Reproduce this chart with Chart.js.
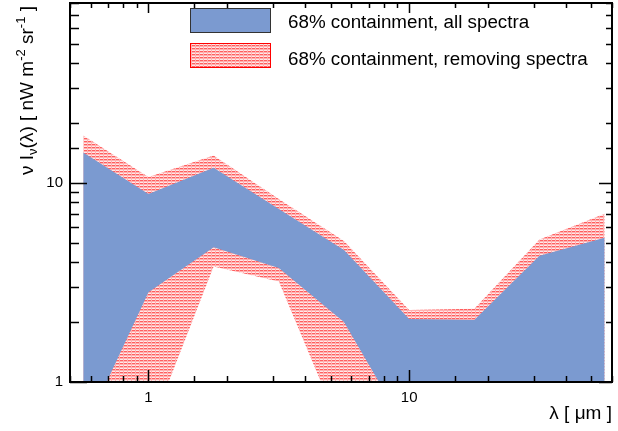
<!DOCTYPE html>
<html><head><meta charset="utf-8">
<style>html,body{margin:0;padding:0;background:#fff;overflow:hidden}#wrap{width:618px;height:431px;position:relative}</style>
<script src="https://cdn.jsdelivr.net/npm/chart.js@4.4.1/dist/chart.umd.min.js"></script>
</head><body><div id="wrap"><canvas id="c" width="618" height="431"></canvas></div>
<script>
// wavelength (um), quarter-decade grid
const lambdaUm = [0.562, 1.0, 1.778, 3.162, 5.623, 10.0, 17.78, 31.62, 56.23];
// 68% containment band, all spectra
const allUpper = [14.2, 8.8, 11.9, 7.4, 4.6, 2.07, 2.05, 4.3, 5.3];
const allLower = [0.56, 2.82, 4.75, 3.74, 2.0, 0.55, 0.5, 0.5, 0.5];
// 68% containment band, removing spectra
const remUpper = [17.3, 10.7, 13.7, 8.3, 5.1, 2.3, 2.33, 5.2, 7.0];
const remLower = [0.5, 0.55, 3.8, 3.2, 0.53, 0.5, 0.5, 0.5, 0.5];
// labelled ticks
const xTickLabels = [1, 10];
const yTickLabels = [1, 10];
const legendLabels = ['68% containment, all spectra', '68% containment, removing spectra'];

const FONT = '"Liberation Sans", Arial, Helvetica, sans-serif';
const BLUE = 'rgb(123,154,208)';

const canvas = document.getElementById('c');
const ctx0 = canvas.getContext('2d');
function makePattern() {
  const c = document.createElement('canvas');
  c.width = 4; c.height = 3;
  const g = c.getContext('2d');
  g.fillStyle = 'rgb(255,176,176)'; g.fillRect(0, 0, 4, 3);
  g.fillStyle = 'rgb(255,95,95)'; g.fillRect(0, 0, 3, 1);
  g.fillStyle = 'rgb(255,232,232)'; g.fillRect(0, 2, 3, 1);
  return ctx0.createPattern(c, 'repeat');
}
const PATTERN = makePattern();

const pts = arr => lambdaUm.map((x, i) => ({x: x, y: arr[i]}));
const isLabelled = (list, v) => list.some(t => Math.abs(t - v) < 1e-9 * Math.max(1, t));

const framePlugin = {
  id: 'framePlugin',
  afterDraw(chart) {
    const ctx = chart.ctx, a = chart.chartArea, xs = chart.scales.x, ys = chart.scales.y;
    ctx.save();
    ctx.strokeStyle = '#000';
    ctx.lineWidth = 1.5;
    const isMajor = v => Math.abs(Math.log10(v) - Math.round(Math.log10(v))) < 1e-9;
    ctx.beginPath();
    ys.ticks.forEach(t => {
      const p = Math.round(ys.getPixelForValue(t.value)) + 0.5;
      const mj = isMajor(t.value);
      ctx.moveTo(a.left, p); ctx.lineTo(a.left + (mj ? 17 : 9), p);
      ctx.moveTo(a.right, p); ctx.lineTo(a.right - (mj ? 13 : 6), p);
    });
    xs.ticks.forEach(t => {
      const p = Math.round(xs.getPixelForValue(t.value)) + 0.5;
      const mj = isMajor(t.value);
      ctx.moveTo(p, a.bottom); ctx.lineTo(p, a.bottom - (mj ? 12 : 6));
      ctx.moveTo(p, a.top); ctx.lineTo(p, a.top + (mj ? 10 : 5));
    });
    ctx.stroke();
    ctx.lineWidth = 2;
    ctx.strokeRect(a.left, a.top, a.right - a.left, a.bottom - a.top);

    // legend
    ctx.fillStyle = BLUE; ctx.fillRect(190, 8, 81, 25);
    ctx.lineWidth = 1; ctx.strokeStyle = '#333'; ctx.strokeRect(190.5, 8.5, 80, 24);
    ctx.fillStyle = PATTERN; ctx.fillRect(190, 43, 81, 25);
    ctx.strokeStyle = 'rgb(255,0,0)'; ctx.strokeRect(190.5, 43.5, 80, 24);
    ctx.fillStyle = '#000';
    ctx.font = '18.8px ' + FONT;
    ctx.textBaseline = 'alphabetic'; ctx.textAlign = 'left';
    ctx.fillText(legendLabels[0], 288, 28);
    ctx.fillText(legendLabels[1], 288, 65);

    // y title with sub/superscripts
    ctx.translate(33, 175);
    ctx.rotate(-Math.PI / 2);
    const big = '19px ' + FONT, small = '13px ' + FONT;
    const parts = [
      ['\u03bd I', big, 0], ['\u03bd', small, 4], ['(\u03bb) [ nW m', big, 0],
      ['-2', small, -8], [' sr', big, 0], ['-1', small, -8], [' ]', big, 0]
    ];
    let xx = 0;
    parts.forEach(p => { ctx.font = p[1]; ctx.fillText(p[0], xx, p[2]); xx += ctx.measureText(p[0]).width; });
    ctx.restore();
  }
};

new Chart(canvas, {
  type: 'line',
  data: {
    datasets: [
      {label: legendLabels[0], data: pts(allUpper), fill: '+1', backgroundColor: BLUE, borderColor: 'rgba(0,0,0,0)', borderWidth: 0, pointRadius: 0, tension: 0},
      {label: 'all lower', data: pts(allLower), fill: false, borderColor: 'rgba(0,0,0,0)', borderWidth: 0, pointRadius: 0, tension: 0},
      {label: legendLabels[1], data: pts(remUpper), fill: '+1', backgroundColor: PATTERN, borderColor: 'rgba(0,0,0,0)', borderWidth: 0, pointRadius: 0, tension: 0},
      {label: 'removing lower', data: pts(remLower), fill: false, borderColor: 'rgba(0,0,0,0)', borderWidth: 0, pointRadius: 0, tension: 0}
    ]
  },
  options: {
    responsive: false, animation: false, devicePixelRatio: 1,
    layout: {padding: {left: 0, right: 6, top: 3, bottom: 0}},
    plugins: {legend: {display: false}, tooltip: {enabled: false}},
    scales: {
      x: {
        type: 'logarithmic', min: 0.5, max: 60,
        grid: {display: false, drawTicks: false},
        border: {display: false},
        ticks: {autoSkip: false, maxRotation: 0, padding: 7, color: '#000', font: {family: FONT, size: 15},
          callback: v => isLabelled(xTickLabels, v) ? String(Math.round(v)) : ''},
        title: {display: true, text: '\u03bb [ \u03bcm ]', align: 'end', color: '#000', font: {family: FONT, size: 19}, padding: {top: 0, bottom: 6}},
        afterFit: s => { s.height = 49; s.paddingLeft = 0; s.paddingRight = 0; }
      },
      y: {
        type: 'logarithmic', min: 1, max: 80,
        grid: {display: false, drawTicks: false},
        border: {display: false},
        ticks: {autoSkip: false, padding: 7, color: '#000', font: {family: FONT, size: 15},
          callback: v => isLabelled(yTickLabels, v) ? String(Math.round(v)) : ''},
        afterFit: s => { s.width = 70; s.paddingTop = 0; s.paddingBottom = 0; }
      }
    }
  },
  plugins: [framePlugin]
});
</script></body></html>
